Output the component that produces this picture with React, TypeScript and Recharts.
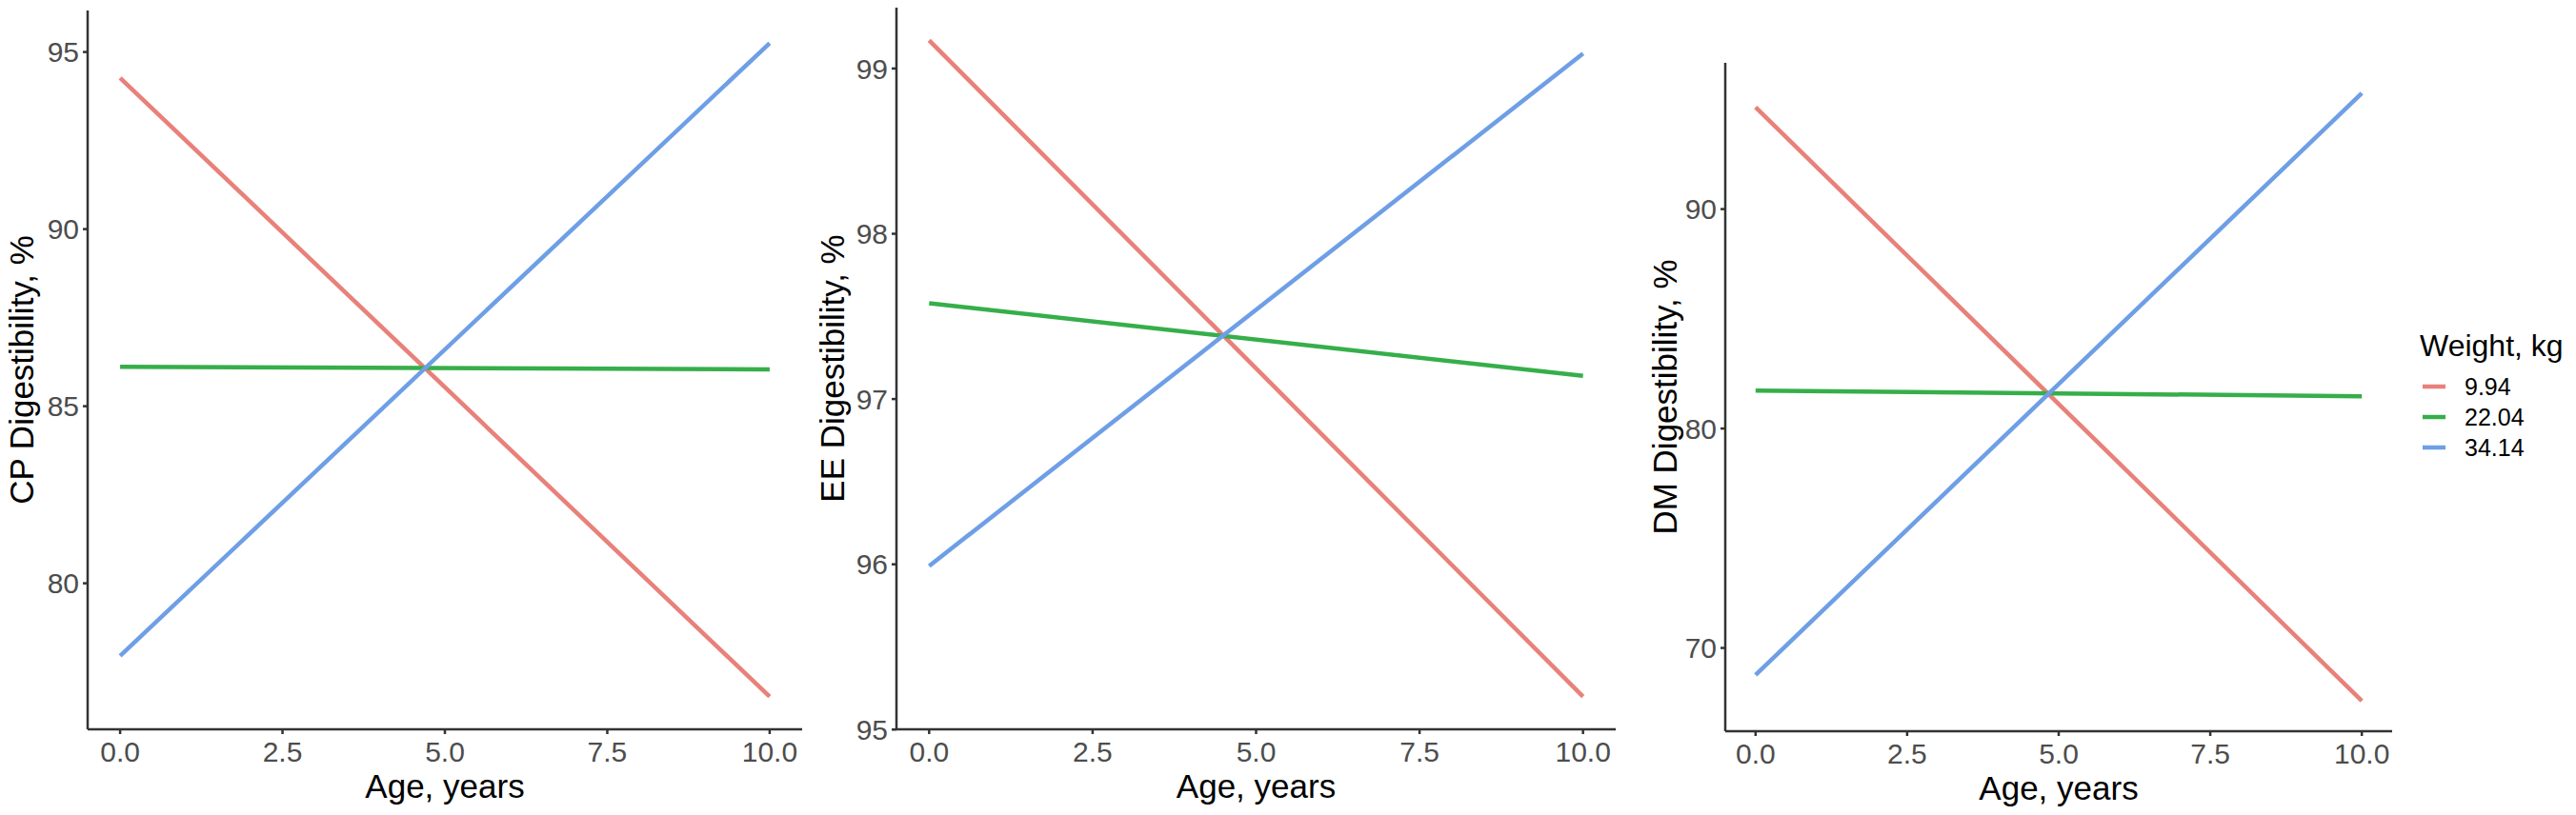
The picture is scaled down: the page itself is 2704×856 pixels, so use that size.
import React from 'react';
import { LineChart, Line, XAxis, YAxis, Label } from 'recharts';

// ---- data ----
const ages = [0, 10];
const weightLabels = ['9.94', '22.04', '34.14'];
const seriesColors = ['#E8817A', '#36AE4A', '#6E9FE6'];

const cpW994 = [94.27, 76.8];
const cpW2204 = [86.11, 86.04];
const cpW3414 = [77.95, 95.25];

const eeW994 = [99.17, 95.2];
const eeW2204 = [97.58, 97.14];
const eeW3414 = [95.99, 99.09];

const dmW994 = [94.64, 67.59];
const dmW2204 = [81.73, 81.47];
const dmW3414 = [68.77, 95.28];

const xTicks = [0, 2.5, 5, 7.5, 10];
const cpTicks = [80, 85, 90, 95];
const eeTicks = [95, 96, 97, 98, 99];
const dmTicks = [70, 80, 90];

const FONT = '"Liberation Sans", Arial, Helvetica, sans-serif';
const AXIS = '#333333';
const TICK_TEXT = '#4D4D4D';

function buildRows(a: number[], b: number[], c: number[]) {
  return ages.map((age, i) => ({ age, w1: a[i], w2: b[i], w3: c[i] }));
}

function expanded(a: number[], b: number[], c: number[]): [number, number] {
  const all = [...a, ...b, ...c];
  const mn = Math.min(...all);
  const mx = Math.max(...all);
  const r = mx - mn;
  return [mn - 0.05 * r, mx + 0.05 * r];
}

type PanelProps = {
  left: number;
  width: number;
  top: number;
  xAxisH: number;
  yAxisW: number;
  marginRight: number;
  rows: any[];
  yDomain: [number, number];
  yTicks: number[];
  yTitle: string;
  yTitleX: number;
};

function Panel(p: PanelProps) {
  const renderYTitle = (props: any) => {
    const vb = props.viewBox || {};
    const cx = p.yTitleX;
    const cy = (vb.y || 0) + (vb.height || 0) / 2;
    return (
      <text
        x={cx}
        y={cy}
        transform={`rotate(-90 ${cx} ${cy})`}
        textAnchor="middle"
        dominantBaseline="central"
        fontFamily={FONT}
        fontSize={35}
        fill="#000000"
      >
        {p.yTitle}
      </text>
    );
  };
  const renderXTitle = (props: any) => {
    const vb = props.viewBox || {};
    const cx = (vb.x || 0) + (vb.width || 0) / 2;
    const y = (vb.y || 0) + 72;
    return (
      <text x={cx} y={y} textAnchor="middle" fontFamily={FONT} fontSize={35} fill="#000000">
        Age, years
      </text>
    );
  };
  return (
    <div style={{ position: 'absolute', left: p.left, top: 0, width: p.width, height: 856 }}>
      <LineChart
        width={p.width}
        height={856}
        data={p.rows}
        margin={{ top: p.top, right: p.marginRight, bottom: 0, left: 0 }}
      >
        <XAxis
          dataKey="age"
          type="number"
          domain={[-0.5, 10.5]}
          ticks={xTicks}
          tickFormatter={(v: number) => v.toFixed(1)}
          height={p.xAxisH}
          axisLine={{ stroke: AXIS, strokeWidth: 2.5 }}
          tickLine={{ stroke: AXIS, strokeWidth: 2.5 }}
          tickSize={5}
          tickMargin={8}
          tick={{ fill: TICK_TEXT, fontSize: 30, fontFamily: FONT }}
          allowDataOverflow
        >
          <Label content={renderXTitle} />
        </XAxis>
        <YAxis
          type="number"
          domain={p.yDomain}
          ticks={p.yTicks}
          width={p.yAxisW}
          axisLine={{ stroke: AXIS, strokeWidth: 2.5 }}
          tickLine={{ stroke: AXIS, strokeWidth: 2.5 }}
          tickSize={5}
          tickMargin={4}
          tick={{ fill: TICK_TEXT, fontSize: 30, fontFamily: FONT }}
          allowDataOverflow
        >
          <Label content={renderYTitle} />
        </YAxis>
        <Line type="linear" dataKey="w1" stroke={seriesColors[0]} strokeWidth={4.5} dot={false} isAnimationActive={false} />
        <Line type="linear" dataKey="w2" stroke={seriesColors[1]} strokeWidth={4.5} dot={false} isAnimationActive={false} />
        <Line type="linear" dataKey="w3" stroke={seriesColors[2]} strokeWidth={4.5} dot={false} isAnimationActive={false} />
      </LineChart>
    </div>
  );
}

function WeightLegend() {
  return (
    <div style={{ position: 'absolute', left: 2540, top: 343, fontFamily: FONT, color: '#000' }}>
      <div style={{ fontSize: 32, lineHeight: '40px', whiteSpace: 'nowrap' }}>Weight, kg</div>
      <div style={{ marginTop: 7 }}>
        {weightLabels.map((lab, i) => (
          <div key={lab} style={{ display: 'flex', alignItems: 'center', height: 32 }}>
            <svg width={30} height={32} style={{ display: 'block' }}>
              <line x1={3} x2={27} y1={16} y2={16} stroke={seriesColors[i]} strokeWidth={4.5} />
            </svg>
            <span style={{ fontSize: 25, marginLeft: 17, lineHeight: '32px' }}>{lab}</span>
          </div>
        ))}
      </div>
    </div>
  );
}

export default function App() {
  const cpRows = buildRows(cpW994, cpW2204, cpW3414);
  const eeRows = buildRows(eeW994, eeW2204, eeW3414);
  const dmRows = buildRows(dmW994, dmW2204, dmW3414);
  return (
    <div
      style={{
        position: 'absolute',
        left: 0,
        top: 0,
        width: 2704,
        height: 856,
        background: '#ffffff',
        overflow: 'hidden',
      }}
    >
      <Panel
        left={0}
        width={850}
        top={11}
        xAxisH={90}
        yAxisW={92}
        marginRight={8}
        rows={cpRows}
        yDomain={expanded(cpW994, cpW2204, cpW3414)}
        yTicks={cpTicks}
        yTitle="CP Digestibility, %"
        yTitleX={22}
      />
      <Panel
        left={850}
        width={850}
        top={8}
        xAxisH={90}
        yAxisW={91}
        marginRight={4}
        rows={eeRows}
        yDomain={expanded(eeW994, eeW2204, eeW3414)}
        yTicks={eeTicks}
        yTitle="EE Digestibility, %"
        yTitleX={23}
      />
      <Panel
        left={1700}
        width={811}
        top={66}
        xAxisH={88}
        yAxisW={111}
        marginRight={0}
        rows={dmRows}
        yDomain={expanded(dmW994, dmW2204, dmW3414)}
        yTicks={dmTicks}
        yTitle="DM Digestibility, %"
        yTitleX={47}
      />
      <WeightLegend />
    </div>
  );
}
